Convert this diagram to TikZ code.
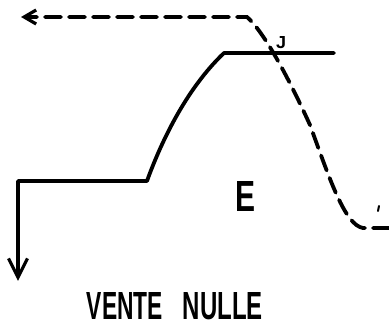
\documentclass[tikz,border=0pt]{standalone}
\usepackage{fontspec}
\setmainfont{Liberation Sans}
\usetikzlibrary{arrows.meta}
\tikzset{
  solidline/.style={line width=3.8pt, line join=round, line cap=round},
  dashline/.style={line width=3.8pt, line cap=round, dash pattern=on 16pt off 8pt},
  lbl/.style={inner sep=0pt, text=black}
}
\begin{document}
\begin{tikzpicture}[x=1pt,y=-1pt]
\useasboundingbox (0,0) rectangle (389,328);
% solid curve
\coordinate (s0) at (18,281);
\coordinate (s1) at (18,181);
\coordinate (s2) at (147,181);
\coordinate (s3) at (224,53);
\coordinate (s4) at (334,53);
\draw[solidline, -{Straight Barb[length=19pt,width=19pt,line width=3.2pt]}]
  (s4) -- (s3) .. controls (185,90) and (160,145) .. (s2) -- (s1) -- (s0);
% dashed curve
\coordinate (d0) at (389,228);
\coordinate (d1) at (363,228);
\coordinate (d2) at (310,125);
\coordinate (d3) at (247,17);
\coordinate (d4) at (21,17);
\draw[dashline, -{Straight Barb[length=12pt,width=14pt,line width=3.2pt]}]
  (d0) -- (d1) .. controls (345,225) and (330,180) .. (d2)
  .. controls (285,70) and (262,30) .. (d3) -- (d4);
% small tick
\coordinate (t0) at (379,206);
\coordinate (t1) at (378,211);
\draw[line width=2pt, line cap=round] (t0) -- (t1);
% labels
\node[lbl] (J) at (281,43) {\resizebox{10pt}{12pt}{\bfseries J}};
\node[lbl] (E) at (245,197) {\resizebox{20pt}{30pt}{\bfseries E}};
\node[lbl] (V1) at (125,306.5) {\resizebox{76pt}{27pt}{\bfseries VENTE}};
\node[lbl] (V2) at (223,306.5) {\resizebox{80pt}{27pt}{\bfseries NULLE}};
\end{tikzpicture}
\end{document}
